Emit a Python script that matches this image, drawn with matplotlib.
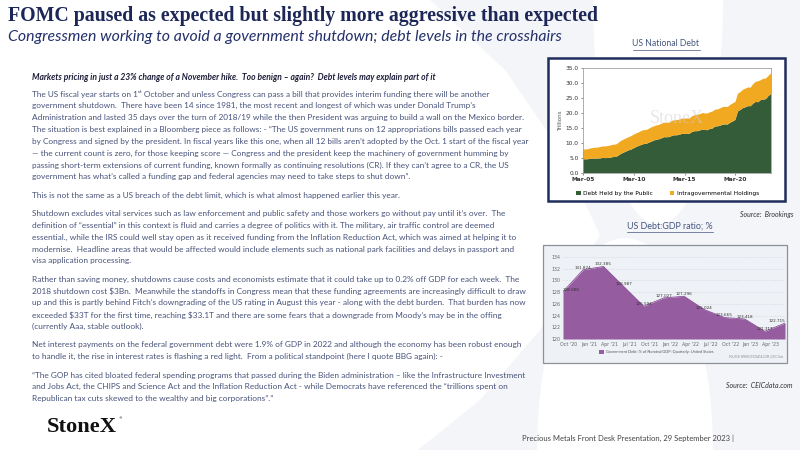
import matplotlib
matplotlib.use("Agg")
import matplotlib.pyplot as plt
import numpy as np
from matplotlib.patches import Rectangle, Polygon

# ---- data: US national debt, quarterly Mar-05 .. Sep-23 (trillions) ----
debt_ticks = ["Mar-05", "Mar-10", "Mar-15", "Mar-20"]
debt_public = [4.60, 4.56, 4.60, 4.71, 4.84, 4.77, 4.84, 4.90, 5.04, 4.95, 5.05, 5.14,
               5.34, 5.32, 5.81, 6.37, 6.78, 7.16, 7.55, 7.81, 8.25, 8.67, 9.02, 9.36,
               9.65, 9.74, 10.13, 10.45, 10.87, 11.05, 11.27, 11.58, 11.93, 11.92, 11.98, 12.36,
               12.59, 12.56, 12.78, 13.02, 13.08, 12.99, 13.12, 13.67, 13.94, 13.93, 14.17, 14.43,
               14.36, 14.26, 14.67, 14.82, 15.48, 15.56, 15.76, 16.10, 16.20, 16.16, 16.81, 17.17,
               17.70, 20.53, 21.02, 21.63, 21.92, 22.28, 22.28, 23.12, 23.68, 23.60, 24.30, 24.48,
               24.62, 25.62, 26.33]
debt_intragov = [3.18, 3.28, 3.33, 3.46, 3.53, 3.65, 3.67, 3.78, 3.81, 3.92, 3.96, 4.09,
                 4.10, 4.17, 4.21, 4.33, 4.35, 4.39, 4.36, 4.50, 4.52, 4.53, 4.54, 4.67,
                 4.62, 4.60, 4.66, 4.77, 4.71, 4.81, 4.80, 4.85, 4.84, 4.82, 4.76, 4.99,
                 5.01, 5.07, 5.04, 5.12, 5.07, 5.16, 5.03, 5.25, 5.32, 5.45, 5.40, 5.55,
                 5.49, 5.58, 5.57, 5.67, 5.61, 5.64, 5.76, 5.87, 5.83, 5.86, 5.91, 6.03,
                 5.99, 5.95, 5.93, 6.12, 6.21, 6.25, 6.15, 6.50, 6.72, 6.97, 6.63, 6.94,
                 6.84, 6.71, 6.84]

# ---- data: debt to GDP ratio ----
gdp_quarters = ["Oct '20", "Jan '21", "Apr '21", "Jul '21", "Oct '21", "Jan '22",
                "Apr '22", "Jul '22", "Oct '22", "Jan '23", "Apr '23", "Jul '23"]
gdp_ratio = [128.080, 131.824, 132.385, 128.987, 125.594, 127.027,
             127.296, 125.024, 123.665, 123.418, 121.317, 122.715]

title = "FOMC paused as expected but slightly more aggressive than expected"
subtitle = "Congressmen working to avoid a government shutdown; debt levels in the crosshairs"
header = "Markets pricing in just a 23% change of a November hike.  Too benign \u2013 again?  Debt levels may explain part of it"
paragraphs = [
    ["The US fiscal year starts on 1\u02e2\u1d57 October and unless Congress can pass a bill that provides interim funding there will be another",
     "government shutdown.  There have been 14 since 1981, the most recent and longest of which was under Donald Trump\u2019s",
     "Administration and lasted 35 days over the turn of 2018/19 while the then President was arguing to build a wall on the Mexico border.",
     "The situation is best explained in a Bloomberg piece as follows: - \u201cThe US government runs on 12 appropriations bills passed each year",
     "by Congress and signed by the president. In fiscal years like this one, when all 12 bills aren\u2019t adopted by the Oct. 1 start of the fiscal year",
     "\u2014 the current count is zero, for those keeping score \u2014 Congress and the president keep the machinery of government humming by",
     "passing short-term extensions of current funding, known formally as continuing resolutions (CR). If they can\u2019t agree to a CR, the US",
     "government has what\u2019s called a funding gap and federal agencies may need to take steps to shut down\u201d."],
    ["This is not the same as a US breach of the debt limit, which is what almost happened earlier this year."],
    ["Shutdown excludes vital services such as law enforcement and public safety and those workers go without pay until it\u2019s over.  The",
     "definition of \u201cessential\u201d in this context is fluid and carries a degree of politics with it. The military, air traffic control are deemed",
     "essential., while the IRS could well stay open as it received funding from the Inflation Reduction Act, which was aimed at helping it to",
     "modernise.  Headline areas that would be affected would include elements such as national park facilities and delays in passport and",
     "visa application processing."],
    ["Rather than saving money, shutdowns cause costs and economists estimate that it could take up to 0.2% off GDP for each week.  The",
     "2018 shutdown cost $3Bn.  Meanwhile the standoffs in Congress mean that these funding agreements are increasingly difficult to draw",
     "up and this is partly behind Fitch\u2019s downgrading of the US rating in August this year - along with the debt burden.  That burden has now",
     "exceeded $33T for the first time, reaching $33.1T and there are some fears that a downgrade from Moody\u2019s may be in the offing",
     "(currently Aaa, stable outlook)."],
    ["Net interest payments on the federal government debt were 1.9% of GDP in 2022 and although the economy has been robust enough",
     "to handle it, the rise in interest rates is flashing a red light.  From a political standpoint (here I quote BBG again): -"],
    ["\u201cThe GOP has cited bloated federal spending programs that passed during the Biden administration \u2013 like the Infrastructure Investment",
     "and Jobs Act, the CHIPS and Science Act and the Inflation Reduction Act - while Democrats have referenced the \u201ctrillions spent on",
     "Republican tax cuts skewed to the wealthy and big corporations\u201d.\u201d"],
]
footer = "Precious Metals Front Desk Presentation, 29 September 2023 |"

navy = "#1d2757"
body_col = "#47527a"
green = "#355c38"
orange = "#f2a922"
purple = "#955c9f"
wm = "#f4f5f8"
sans = ["Lato", "DejaVu Sans"]

fig = plt.figure(figsize=(8, 4.5), dpi=100)
fig.patch.set_facecolor("white")
bg = fig.add_axes([0, 0, 1, 1])
bg.set_xlim(0, 800)
bg.set_ylim(450, 0)
bg.axis("off")
renderer = fig.canvas.get_renderer()


def px_axes(x0, y0, x1, y1):
    return fig.add_axes([x0 / 800, 1 - y1 / 450, (x1 - x0) / 800, (y1 - y0) / 450])


def fit(x, y, s, width, **kw):
    t = bg.text(x, y, s, fontsize=10, parse_math=False, **kw)
    w = t.get_window_extent(renderer).width
    t.set_fontsize(10 * width / w)
    return t


# background watermark (big X)
bg.add_patch(Polygon([(430, 0), (800, 0), (800, 450), (418, 450), (480, 400), (540, 330),
                      (600, 235), (560, 150), (505, 70)], closed=True, fc=wm, ec="none", zorder=0))
t = np.linspace(0, np.pi, 60)
bg.add_patch(Polygon(np.c_[658 + 65 * np.cos(t), 225 * np.sin(t)], fc="white", ec="none", zorder=0))
bg.add_patch(Polygon(np.c_[625 + 88 * np.cos(t), 450 - 212 * np.sin(t)], fc="white", ec="none", zorder=0))

# titles
fit(8, 16, title, 594, family="Liberation Serif", weight="bold", color=navy, va="center")
fit(8, 37, subtitle, 552, family=sans, style="italic", color="#24306a", va="center")

# body text
fit(32, 77, header, 403, family=sans, style="italic", weight="bold", color="#1c1d38", va="center")
probe = bg.text(0, 0, paragraphs[0][4], fontsize=10, family=sans, parse_math=False)
body_size = 10 * 494 / probe.get_window_extent(renderer).width
probe.remove()
y = 94
for para in paragraphs:
    for line in para:
        bg.text(32, y, line, fontsize=body_size, family=sans, color=body_col, va="center", parse_math=False)
        y += 11.85
    y += 18.3 - 11.85

# logo + footer
fit(47, 427, "StoneX", 70, family="Liberation Serif", weight="bold", color="#111111", va="center")
bg.text(119, 418, "\u00ae", fontsize=2.5, color="#111111", va="center")
fit(522, 438, footer, 211, family=sans, color="#444444", va="center")

# ---- top chart: US National Debt ----
tt = fit(666, 44, "US National Debt", 67, family=sans, color="#44557f", ha="center", va="center")
bb = tt.get_window_extent(renderer)
bg.plot([bb.x0, bb.x1], [50, 50], color="#44557f", lw=0.5)
bg.add_patch(Rectangle((548, 58), 237, 143, fc="white", ec="#1f2d5c", lw=1.8, zorder=1))

ax1 = px_axes(583, 68, 771, 173)
qx = np.arange(len(debt_public))
ax1.stackplot(qx, debt_public, debt_intragov, colors=[green, orange], lw=0,
              labels=["Debt Held by the Public", "Intragovernmental Holdings"])
ax1.set_xlim(0, len(qx) - 1)
ax1.set_ylim(0, 35)
ax1.set_yticks(np.arange(0, 36, 5))
ax1.set_yticklabels([f"{v:.1f}" for v in np.arange(0, 36, 5)])
ax1.set_xticks(qx[::20])
ax1.set_xticklabels(debt_ticks, fontweight="bold")
ax1.tick_params(labelsize=4.2, length=1.5, width=0.4, pad=1.5, colors="#333333")
ax1.set_ylabel("Trillions", fontsize=4, color="#555555", labelpad=2)
for s in ax1.spines.values():
    s.set_color("#a0a0a0")
    s.set_linewidth(0.6)
ax1.text(0.5, 0.52, "StoneX", transform=ax1.transAxes, fontsize=13, family="Liberation Serif",
         color="#cfcfcf", alpha=0.5, ha="center", va="center")
ax1.legend(loc="upper center", bbox_to_anchor=(0.45, -0.12), ncol=2, frameon=False,
           fontsize=4.2, handlelength=0.7, handleheight=0.7, handletextpad=0.4, columnspacing=3)

bg.text(793, 215, "Source:  Brookings", fontsize=5, family=sans, style="italic",
        color="#333333", ha="right", va="center")

# ---- bottom chart: Debt/GDP ----
tt = fit(670, 226, "US Debt:GDP ratio; %", 86, family=sans, color="#44557f", ha="center", va="center")
bb = tt.get_window_extent(renderer)
bg.plot([bb.x0, bb.x1], [232, 232], color="#44557f", lw=0.5)
bg.add_patch(Rectangle((543, 245), 244, 118, fc="#eef2f6", ec="#8b9099", lw=0.9, zorder=1))

ax2 = px_axes(563, 257, 785, 339)
ax2.set_facecolor("none")
gx = np.arange(len(gdp_ratio))
ax2.fill_between(gx, gdp_ratio, 120, color=purple, lw=0)
ax2.plot(gx, gdp_ratio, color="#8a4d95", lw=0.6)
ax2.set_xlim(0, len(gx) - 1)
ax2.set_ylim(120, 134)
ax2.set_yticks(np.arange(120, 135, 2))
ax2.set_xticks(gx[:-1] + 0.3)
ax2.set_xticklabels(gdp_quarters[:-1])
ax2.tick_params(labelsize=3.4, length=0, pad=2, colors="#666666")
ax2.grid(axis="y", color="#cfd5de", lw=0.4, ls=(0, (3, 2)))
ax2.set_axisbelow(True)
for s in ax2.spines.values():
    s.set_visible(False)
for i, v in enumerate(gdp_ratio):
    ha = "left" if i == 0 else ("right" if i == len(gdp_ratio) - 1 else "center")
    ax2.text(i, v + 0.35, f"{v:.3f}", fontsize=3, color="#333333", ha=ha, va="center")

bg.add_patch(Rectangle((599, 350), 5, 4, fc=purple, ec="none", zorder=2))
bg.text(606, 352, "Government Debt: % of Nominal GDP: Quarterly: United States", fontsize=2.8,
        family=sans, color="#555555", va="center", zorder=2)
bg.text(783, 357, "SOURCE: WWW.CEICDATA.COM | CEIC Data", fontsize=1.9, family=sans,
        color="#888888", ha="right", va="center", zorder=2)
bg.text(793, 386, "Source:  CEICdata.com", fontsize=5, family=sans, style="italic",
        color="#333333", ha="right", va="center")

fig.savefig("out.png", dpi=100)
